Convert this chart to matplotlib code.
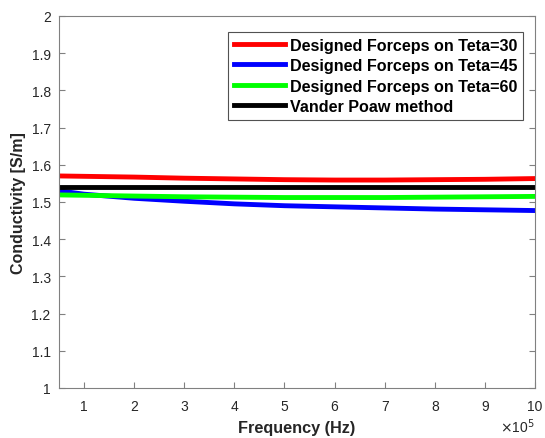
import matplotlib
matplotlib.use("Agg")
import matplotlib.pyplot as plt
import numpy as np

plt.rcParams['font.family'] = ['Liberation Sans', 'DejaVu Sans']

# frequency points (Hz)
freq = np.array([0.5, 1, 2, 3, 4, 5, 6, 7, 8, 9, 10]) * 1e5

teta30 = [1.570, 1.569, 1.567, 1.564, 1.562, 1.560, 1.559, 1.559, 1.560, 1.561, 1.563]
teta45 = [1.530, 1.521, 1.510, 1.502, 1.495, 1.490, 1.487, 1.484, 1.481, 1.479, 1.477]
teta60 = [1.519, 1.518, 1.516, 1.514, 1.513, 1.512, 1.512, 1.512, 1.513, 1.514, 1.515]
vander = [1.540] * len(freq)

labels = ['Designed Forceps on Teta=30', 'Designed Forceps on Teta=45',
          'Designed Forceps on Teta=60', 'Vander Poaw method']
colors = ['#ff0000', '#0000ff', '#00ff00', '#000000']

fig = plt.figure(figsize=(5.45, 4.39), dpi=100)
ax = fig.add_axes([0.1083, 0.1139, 0.8734, 0.8474])

for ys, lab, c in zip([teta30, teta45, teta60, vander], labels, colors):
    ax.plot(freq, ys, color=c, lw=3.5, label=lab)

ax.set_xlim(0.5e5, 10e5)
ax.set_ylim(1, 2)
ax.set_xticks(np.arange(1, 11) * 1e5)
ax.set_xticklabels([str(i) for i in range(1, 11)])
ax.set_yticks(np.round(np.arange(1, 2.01, 0.1), 1))
ax.set_yticklabels(['1', '1.1', '1.2', '1.3', '1.4', '1.5', '1.6', '1.7', '1.8', '1.9', '2'])

gray = '#262626'
for s in ax.spines.values():
    s.set_color('#808080')
    s.set_linewidth(0.8)
ax.tick_params(direction='in', length=4, colors='#808080', labelcolor=gray,
               labelsize=10, top=False, right=True)
ax.tick_params(axis='x', pad=8)
ax.tick_params(axis='y', pad=6)

ax.set_xlabel('Frequency (Hz)', fontsize=11.7, fontweight='bold', color=gray, labelpad=5)
ax.set_ylabel('Conductivity [S/m]', fontsize=11.5, fontweight='bold', color=gray, labelpad=4)

ax.text(1.0, -0.102, r'$\times$10$^5$', transform=ax.transAxes, ha='right', va='center',
        fontsize=10, color=gray)

leg = ax.legend(loc='upper right', bbox_to_anchor=(0.975, 0.957), fancybox=False,
                prop={'weight': 'bold', 'size': 11.6}, handlelength=3.2,
                borderpad=0.35, labelspacing=0.34, handletextpad=0.3, borderaxespad=0)
leg.get_frame().set_edgecolor(gray)
leg.get_frame().set_linewidth(0.8)
for t in leg.get_texts():
    t.set_color('black')

fig.savefig('out.png', dpi=100)
